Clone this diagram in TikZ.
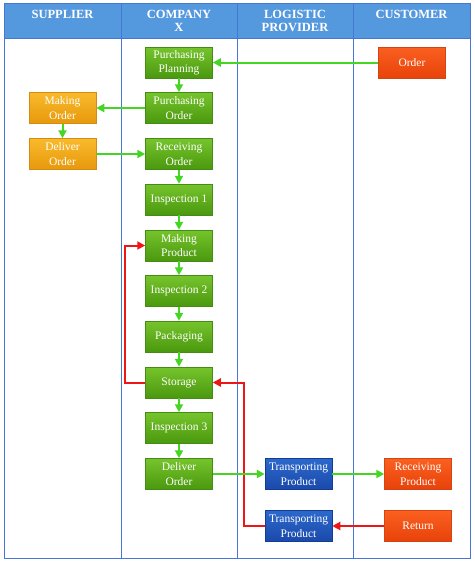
\documentclass[tikz,border=0pt]{standalone}
\usepackage{fontspec}
\setmainfont{Liberation Serif}
\usetikzlibrary{arrows.meta}
\definecolor{hdr}{RGB}{84,152,222}
\definecolor{frame}{RGB}{72,118,214}
\definecolor{gtop}{RGB}{118,196,44}
\definecolor{gbot}{RGB}{74,152,14}
\definecolor{gdraw}{RGB}{70,140,20}
\definecolor{otop}{RGB}{248,186,44}
\definecolor{obot}{RGB}{232,152,12}
\definecolor{odraw}{RGB}{210,140,20}
\definecolor{rtop}{RGB}{250,96,32}
\definecolor{rbot}{RGB}{232,66,10}
\definecolor{rdraw}{RGB}{210,70,20}
\definecolor{btop}{RGB}{44,104,204}
\definecolor{bbot}{RGB}{26,74,170}
\definecolor{bdraw}{RGB}{20,60,150}
\definecolor{garrow}{RGB}{68,214,34}
\definecolor{rarrow}{RGB}{236,22,22}
\tikzset{
  box/.style={rectangle, minimum width=67pt, minimum height=31pt, inner sep=0pt,
    align=center, text=white, font=\fontsize{11.5}{14.5}\selectfont, line width=0.5pt},
  gbox/.style={box, top color=gtop, bottom color=gbot, draw=gdraw},
  obox/.style={box, top color=otop, bottom color=obot, draw=odraw},
  rbox/.style={box, top color=rtop, bottom color=rbot, draw=rdraw},
  bbox/.style={box, top color=btop, bottom color=bbot, draw=bdraw},
  hdrtext/.style={anchor=north, inner sep=0pt, align=center, text=white,
    font=\fontsize{12.5}{13}\selectfont\bfseries},
  garr/.style={draw=garrow, line width=2pt, -{Triangle[length=8pt,width=8pt]}},
  rarr/.style={draw=rarrow, line width=2pt, -{Triangle[length=8pt,width=8pt]}},
}
\begin{document}
\begin{tikzpicture}[x=1pt,y=-1pt]
\useasboundingbox (0,0) rectangle (474,565);
% header and frame
\fill[hdr] (4,3) rectangle (470,38);
\draw[frame, line width=0.8pt] (4,3) rectangle (470,558);
\draw[frame, line width=0.8pt] (4,38) -- (470,38);
\foreach \xx in {121,237,353} \draw[frame, line width=0.8pt] (\xx,3) -- (\xx,558);
\node[hdrtext] (h1) at (62.5,10.3) {SUPPLIER};
\node[hdrtext] (h2) at (179,10.3) {COMPANY\\X};
\node[hdrtext] (h3) at (295,10.3) {LOGISTIC\\PROVIDER};
\node[hdrtext] (h4) at (411.5,10.3) {CUSTOMER};
% nodes
\node[rbox] (ord) at (412,62.5) {Order};
\node[gbox] (pp) at (179,62.5) {Purchasing\\Planning};
\node[gbox] (po) at (179,108) {Purchasing\\Order};
\node[obox] (mo) at (62.5,108) {Making\\Order};
\node[obox] (do) at (62.5,154) {Deliver\\Order};
\node[gbox] (ro) at (179,154) {Receiving\\Order};
\node[gbox] (i1) at (179,199.5) {Inspection 1};
\node[gbox] (mp) at (179,245.5) {Making\\Product};
\node[gbox] (i2) at (179,291) {Inspection 2};
\node[gbox] (pk) at (179,336.5) {Packaging};
\node[gbox] (st) at (179,382.5) {Storage};
\node[gbox] (i3) at (179,428) {Inspection 3};
\node[gbox] (dl) at (179,474) {Deliver\\Order};
\node[bbox] (tp1) at (298.5,474) {Transporting\\Product};
\node[rbox] (rp) at (418,474) {Receiving\\Product};
\node[bbox] (tp2) at (298.5,526) {Transporting\\Product};
\node[rbox] (rt) at (418,526) {Return};
% red arrows
\draw[rarr] (st.west) -- ++(-20.5,0) |- (mp.west);
\draw[rarr] (tp2.west) -- ++(-21,0) |- (st.east);
\draw[rarr] (rt.west) -- (tp2.east);
% green arrows
\draw[garr] (ord.west) -- (pp.east);
\draw[garr] (pp) -- (po);
\draw[garr] (po.west) -- (mo.east);
\draw[garr] (mo) -- (do);
\draw[garr] (do.east) -- (ro.west);
\draw[garr] (ro) -- (i1);
\draw[garr] (i1) -- (mp);
\draw[garr] (mp) -- (i2);
\draw[garr] (i2) -- (pk);
\draw[garr] (pk) -- (st);
\draw[garr] (st) -- (i3);
\draw[garr] (i3) -- (dl);
\draw[garr] (dl.east) -- (tp1.west);
\draw[garr] (tp1.east) -- (rp.west);
\end{tikzpicture}
\end{document}
